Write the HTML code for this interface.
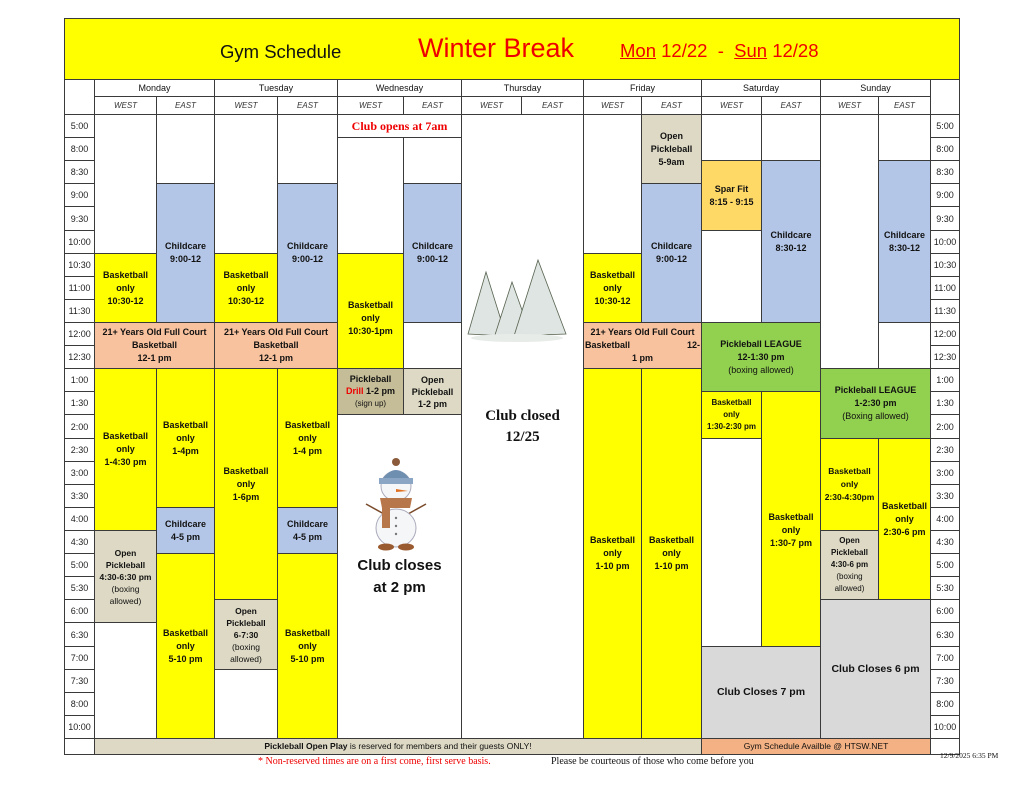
<!DOCTYPE html>
<html><head><meta charset="utf-8"><style>
body{margin:0;width:1024px;height:791px;background:#fff;position:relative;overflow:hidden;font-family:"Liberation Sans",sans-serif;}
.c{position:absolute;box-sizing:border-box;border:1px solid #3a3a3a;display:flex;flex-direction:column;align-items:center;justify-content:center;text-align:center;font-weight:bold;font-size:9px;line-height:13px;color:#111;}
.t{position:absolute;box-sizing:border-box;border:1px solid #3a3a3a;font-size:9px;display:flex;align-items:center;justify-content:center;background:#fff;color:#222;}
.y{background:#ffff00}.b{background:#b4c6e7}.o{background:#f8c29e}.p{background:#ddd9c4}.pd{background:#c4bd97}.g{background:#92d050}.s{background:#ffd966}.gr{background:#d9d9d9}.w{background:#fff}
.h{position:absolute;box-sizing:border-box;border:1px solid #3a3a3a;font-size:9px;display:flex;align-items:center;justify-content:center;background:#fff;color:#111}
.i{font-style:italic;font-size:8px;color:#333}
.n{font-weight:normal}
</style></head><body>
<!-- title -->
<div class="c y" style="left:64px;top:18px;width:896px;height:62px;"></div>
<div style="position:absolute;left:220px;top:41px;font-size:18.5px;color:#111;">Gym Schedule</div>
<div style="position:absolute;left:418px;top:33px;font-size:27px;color:#e00;">Winter Break</div>
<div style="position:absolute;left:620px;top:40px;font-size:18.5px;color:#e00;"><u>Mon</u> 12/22&nbsp; - &nbsp;<u>Sun</u> 12/28</div>
<!-- header -->
<div class="h" style="left:64px;top:79px;width:31px;height:36px"></div>
<div class="h" style="left:930px;top:79px;width:30px;height:36px"></div>
<div class="h" style="left:94px;top:79px;width:121px;height:18px">Monday</div>
<div class="h" style="left:214px;top:79px;width:124px;height:18px">Tuesday</div>
<div class="h" style="left:337px;top:79px;width:125px;height:18px">Wednesday</div>
<div class="h" style="left:461px;top:79px;width:123px;height:18px">Thursday</div>
<div class="h" style="left:583px;top:79px;width:119px;height:18px">Friday</div>
<div class="h" style="left:701px;top:79px;width:120px;height:18px">Saturday</div>
<div class="h" style="left:820px;top:79px;width:111px;height:18px">Sunday</div>
<div class="h i" style="left:94px;top:96px;width:63px;height:19px">WEST</div>
<div class="h i" style="left:156px;top:96px;width:59px;height:19px">EAST</div>
<div class="h i" style="left:214px;top:96px;width:64px;height:19px">WEST</div>
<div class="h i" style="left:277px;top:96px;width:61px;height:19px">EAST</div>
<div class="h i" style="left:337px;top:96px;width:67px;height:19px">WEST</div>
<div class="h i" style="left:403px;top:96px;width:59px;height:19px">EAST</div>
<div class="h i" style="left:461px;top:96px;width:61px;height:19px">WEST</div>
<div class="h i" style="left:521px;top:96px;width:63px;height:19px">EAST</div>
<div class="h i" style="left:583px;top:96px;width:59px;height:19px">WEST</div>
<div class="h i" style="left:641px;top:96px;width:61px;height:19px">EAST</div>
<div class="h i" style="left:701px;top:96px;width:61px;height:19px">WEST</div>
<div class="h i" style="left:761px;top:96px;width:60px;height:19px">EAST</div>
<div class="h i" style="left:820px;top:96px;width:59px;height:19px">WEST</div>
<div class="h i" style="left:878px;top:96px;width:53px;height:19px">EAST</div>
<!-- time labels -->
<div class="t" style="left:64px;top:114px;width:31px;height:24px">5:00</div><div class="t" style="left:930px;top:114px;width:30px;height:24px">5:00</div>
<div class="t" style="left:64px;top:137px;width:31px;height:24px">8:00</div><div class="t" style="left:930px;top:137px;width:30px;height:24px">8:00</div>
<div class="t" style="left:64px;top:160px;width:31px;height:24px">8:30</div><div class="t" style="left:930px;top:160px;width:30px;height:24px">8:30</div>
<div class="t" style="left:64px;top:183px;width:31px;height:24px">9:00</div><div class="t" style="left:930px;top:183px;width:30px;height:24px">9:00</div>
<div class="t" style="left:64px;top:206px;width:31px;height:25px">9:30</div><div class="t" style="left:930px;top:206px;width:30px;height:25px">9:30</div>
<div class="t" style="left:64px;top:230px;width:31px;height:24px">10:00</div><div class="t" style="left:930px;top:230px;width:30px;height:24px">10:00</div>
<div class="t" style="left:64px;top:253px;width:31px;height:24px">10:30</div><div class="t" style="left:930px;top:253px;width:30px;height:24px">10:30</div>
<div class="t" style="left:64px;top:276px;width:31px;height:24px">11:00</div><div class="t" style="left:930px;top:276px;width:30px;height:24px">11:00</div>
<div class="t" style="left:64px;top:299px;width:31px;height:24px">11:30</div><div class="t" style="left:930px;top:299px;width:30px;height:24px">11:30</div>
<div class="t" style="left:64px;top:322px;width:31px;height:24px">12:00</div><div class="t" style="left:930px;top:322px;width:30px;height:24px">12:00</div>
<div class="t" style="left:64px;top:345px;width:31px;height:24px">12:30</div><div class="t" style="left:930px;top:345px;width:30px;height:24px">12:30</div>
<div class="t" style="left:64px;top:368px;width:31px;height:24px">1:00</div><div class="t" style="left:930px;top:368px;width:30px;height:24px">1:00</div>
<div class="t" style="left:64px;top:391px;width:31px;height:24px">1:30</div><div class="t" style="left:930px;top:391px;width:30px;height:24px">1:30</div>
<div class="t" style="left:64px;top:414px;width:31px;height:25px">2:00</div><div class="t" style="left:930px;top:414px;width:30px;height:25px">2:00</div>
<div class="t" style="left:64px;top:438px;width:31px;height:24px">2:30</div><div class="t" style="left:930px;top:438px;width:30px;height:24px">2:30</div>
<div class="t" style="left:64px;top:461px;width:31px;height:24px">3:00</div><div class="t" style="left:930px;top:461px;width:30px;height:24px">3:00</div>
<div class="t" style="left:64px;top:484px;width:31px;height:24px">3:30</div><div class="t" style="left:930px;top:484px;width:30px;height:24px">3:30</div>
<div class="t" style="left:64px;top:507px;width:31px;height:24px">4:00</div><div class="t" style="left:930px;top:507px;width:30px;height:24px">4:00</div>
<div class="t" style="left:64px;top:530px;width:31px;height:24px">4:30</div><div class="t" style="left:930px;top:530px;width:30px;height:24px">4:30</div>
<div class="t" style="left:64px;top:553px;width:31px;height:24px">5:00</div><div class="t" style="left:930px;top:553px;width:30px;height:24px">5:00</div>
<div class="t" style="left:64px;top:576px;width:31px;height:24px">5:30</div><div class="t" style="left:930px;top:576px;width:30px;height:24px">5:30</div>
<div class="t" style="left:64px;top:599px;width:31px;height:24px">6:00</div><div class="t" style="left:930px;top:599px;width:30px;height:24px">6:00</div>
<div class="t" style="left:64px;top:622px;width:31px;height:25px">6:30</div><div class="t" style="left:930px;top:622px;width:30px;height:25px">6:30</div>
<div class="t" style="left:64px;top:646px;width:31px;height:24px">7:00</div><div class="t" style="left:930px;top:646px;width:30px;height:24px">7:00</div>
<div class="t" style="left:64px;top:669px;width:31px;height:24px">7:30</div><div class="t" style="left:930px;top:669px;width:30px;height:24px">7:30</div>
<div class="t" style="left:64px;top:692px;width:31px;height:24px">8:00</div><div class="t" style="left:930px;top:692px;width:30px;height:24px">8:00</div>
<div class="t" style="left:64px;top:715px;width:31px;height:24px">10:00</div><div class="t" style="left:930px;top:715px;width:30px;height:24px">10:00</div>
<div class="t" style="left:64px;top:738px;width:31px;height:17px"></div><div class="t" style="left:930px;top:738px;width:30px;height:17px"></div>

<!-- Monday -->
<div class="c w" style="left:94px;top:114px;width:63px;height:140px"></div>
<div class="c y" style="left:94px;top:253px;width:63px;height:70px"><div>Basketball<br>only<br>10:30-12</div></div>
<div class="c w" style="left:156px;top:114px;width:59px;height:70px"></div>
<div class="c b" style="left:156px;top:183px;width:59px;height:140px"><div>Childcare<br>9:00-12</div></div>
<div class="c o" style="left:94px;top:322px;width:121px;height:47px"><div>21+ Years Old Full Court<br>Basketball<br>12-1 pm</div></div>
<div class="c y" style="left:94px;top:368px;width:63px;height:163px"><div>Basketball<br>only<br>1-4:30 pm</div></div>
<div class="c p" style="left:94px;top:530px;width:63px;height:93px;font-size:8.5px;line-height:12px"><div>Open<br>Pickleball<br>4:30-6:30 pm<br><span class="n">(boxing<br>allowed)</span></div></div>
<div class="c w" style="left:94px;top:622px;width:63px;height:117px"></div>
<div class="c y" style="left:156px;top:368px;width:59px;height:140px"><div>Basketball<br>only<br>1-4pm</div></div>
<div class="c b" style="left:156px;top:507px;width:59px;height:47px"><div>Childcare<br>4-5 pm</div></div>
<div class="c y" style="left:156px;top:553px;width:59px;height:186px"><div>Basketball<br>only<br>5-10 pm</div></div>
<!-- Tuesday -->
<div class="c w" style="left:214px;top:114px;width:64px;height:140px"></div>
<div class="c y" style="left:214px;top:253px;width:64px;height:70px"><div>Basketball<br>only<br>10:30-12</div></div>
<div class="c w" style="left:277px;top:114px;width:61px;height:70px"></div>
<div class="c b" style="left:277px;top:183px;width:61px;height:140px"><div>Childcare<br>9:00-12</div></div>
<div class="c o" style="left:214px;top:322px;width:124px;height:47px"><div>21+ Years Old Full Court<br>Basketball<br>12-1 pm</div></div>
<div class="c y" style="left:214px;top:368px;width:64px;height:232px"><div>Basketball<br>only<br>1-6pm</div></div>
<div class="c p" style="left:214px;top:599px;width:64px;height:71px;font-size:8.5px;line-height:12px"><div>Open<br>Pickleball<br>6-7:30<br><span class="n">(boxing<br>allowed)</span></div></div>
<div class="c w" style="left:214px;top:669px;width:64px;height:70px"></div>
<div class="c y" style="left:277px;top:368px;width:61px;height:140px"><div>Basketball<br>only<br>1-4 pm</div></div>
<div class="c b" style="left:277px;top:507px;width:61px;height:47px"><div>Childcare<br>4-5 pm</div></div>
<div class="c y" style="left:277px;top:553px;width:61px;height:186px"><div>Basketball<br>only<br>5-10 pm</div></div>
<!-- Wednesday -->
<div class="c w" style="left:337px;top:114px;width:125px;height:24px;color:#e00;font-family:'Liberation Serif',serif;font-size:12px"><div>Club opens at 7am</div></div>
<div class="c w" style="left:337px;top:137px;width:67px;height:117px"></div>
<div class="c y" style="left:337px;top:253px;width:67px;height:116px;padding-top:14px"><div>Basketball only<br>10:30-1pm</div></div>
<div class="c w" style="left:403px;top:137px;width:59px;height:47px"></div>
<div class="c b" style="left:403px;top:183px;width:59px;height:140px"><div>Childcare<br>9:00-12</div></div>
<div class="c w" style="left:403px;top:322px;width:59px;height:47px"></div>
<div class="c pd" style="left:337px;top:368px;width:67px;height:47px;line-height:12px"><div>Pickleball<br><span style="color:#e00">Drill</span> 1-2 pm<br><span class="n" style="font-size:8px">(sign up)</span></div></div>
<div class="c p" style="left:403px;top:368px;width:59px;height:47px;line-height:12px"><div>Open<br>Pickleball<br>1-2 pm</div></div>
<div class="c w" style="left:337px;top:414px;width:125px;height:325px"></div>
<svg style="position:absolute;left:358px;top:456px" width="76" height="96" viewBox="0 0 76 96">
<line x1="8" y1="48" x2="26" y2="58" stroke="#7a4a2a" stroke-width="1.5"/><line x1="68" y1="48" x2="50" y2="58" stroke="#7a4a2a" stroke-width="1.5"/>
<ellipse cx="38" cy="72" rx="20" ry="19" fill="#f4f6f8" stroke="#aab" />
<ellipse cx="38" cy="30" rx="15" ry="15" fill="#f4f6f8" stroke="#aab"/>
<path d="M22 26 Q38 2 54 26 Z" fill="#6f8fb0"/><rect x="21" y="22" width="34" height="6" fill="#8aa6c4"/><circle cx="38" cy="6" r="4" fill="#8a5a3a"/>
<path d="M22 42 L54 42 L52 52 L24 52Z" fill="#b8774a"/><rect x="24" y="50" width="8" height="22" fill="#b8774a"/>
<path d="M38 33 L50 35 L38 36Z" fill="#e07020"/>
<circle cx="38" cy="62" r="1.2" fill="#777"/><circle cx="38" cy="70" r="1.2" fill="#777"/><circle cx="38" cy="78" r="1.2" fill="#777"/>
<ellipse cx="28" cy="91" rx="8" ry="3.5" fill="#9a5a30"/><ellipse cx="48" cy="91" rx="8" ry="3.5" fill="#9a5a30"/>
</svg>
<div style="position:absolute;left:337px;top:555px;width:125px;text-align:center;font-weight:bold;font-size:15px;line-height:22px;color:#111">Club closes<br>at 2 pm</div>
<!-- Thursday -->
<div class="c w" style="left:461px;top:114px;width:123px;height:625px"></div>
<svg style="position:absolute;left:464px;top:252px" width="106" height="92" viewBox="0 0 106 92">
<g fill="#dfe5e2" stroke="#56624f" stroke-width="0.8">
<path d="M22 20 L4 82 L42 84 Z"/><path d="M48 30 L30 86 L68 86 Z"/><path d="M74 8 L50 84 L102 82 Z"/></g>
<ellipse cx="53" cy="86" rx="46" ry="4" fill="#e8ece9"/>
</svg>
<div style="position:absolute;left:461px;top:406px;width:123px;text-align:center;font-weight:bold;font-size:15px;line-height:21px;font-family:'Liberation Serif',serif;color:#111">Club closed<br>12/25</div>
<!-- Friday -->
<div class="c w" style="left:583px;top:114px;width:59px;height:140px"></div>
<div class="c y" style="left:583px;top:253px;width:59px;height:70px"><div>Basketball<br>only<br>10:30-12</div></div>
<div class="c p" style="left:641px;top:114px;width:61px;height:70px"><div>Open<br>Pickleball<br>5-9am</div></div>
<div class="c b" style="left:641px;top:183px;width:61px;height:140px"><div>Childcare<br>9:00-12</div></div>
<div class="c o" style="left:583px;top:322px;width:119px;height:47px;display:block;padding-top:3px">21+ Years Old Full Court<br><span style="display:flex;justify-content:space-between;padding:0 1px"><span>Basketball</span><span>12-</span></span>1 pm</div>
<div class="c y" style="left:583px;top:368px;width:59px;height:371px"><div>Basketball<br>only<br>1-10 pm</div></div>
<div class="c y" style="left:641px;top:368px;width:61px;height:371px"><div>Basketball<br>only<br>1-10 pm</div></div>
<!-- Saturday -->
<div class="c w" style="left:701px;top:114px;width:61px;height:47px"></div>
<div class="c s" style="left:701px;top:160px;width:61px;height:71px"><div>Spar Fit<br>8:15 - 9:15</div></div>
<div class="c w" style="left:701px;top:230px;width:61px;height:93px"></div>
<div class="c w" style="left:761px;top:114px;width:60px;height:47px"></div>
<div class="c b" style="left:761px;top:160px;width:60px;height:163px"><div>Childcare<br>8:30-12</div></div>
<div class="c g" style="left:701px;top:322px;width:120px;height:70px"><div>Pickleball LEAGUE<br>12-1:30 pm<br><span class="n">(boxing allowed)</span></div></div>
<div class="c y" style="left:701px;top:391px;width:61px;height:48px;font-size:8px;line-height:12px"><div>Basketball<br>only<br>1:30-2:30 pm</div></div>
<div class="c w" style="left:701px;top:438px;width:61px;height:232px"></div>
<div class="c y" style="left:761px;top:391px;width:60px;height:279px"><div>Basketball<br>only<br>1:30-7 pm</div></div>
<div class="c gr" style="left:701px;top:646px;width:120px;height:93px;font-size:10.5px"><div>Club Closes 7 pm</div></div>
<!-- Sunday -->
<div class="c w" style="left:820px;top:114px;width:59px;height:255px"></div>
<div class="c w" style="left:878px;top:114px;width:53px;height:47px"></div>
<div class="c b" style="left:878px;top:160px;width:53px;height:163px"><div>Childcare<br>8:30-12</div></div>
<div class="c w" style="left:878px;top:322px;width:53px;height:47px"></div>
<div class="c g" style="left:820px;top:368px;width:111px;height:71px"><div>Pickleball LEAGUE<br>1-2:30 pm<br><span class="n">(Boxing allowed)</span></div></div>
<div class="c y" style="left:820px;top:438px;width:59px;height:93px;font-size:8.5px"><div>Basketball<br>only<br>2:30-4:30pm</div></div>
<div class="c p" style="left:820px;top:530px;width:59px;height:70px;font-size:8px;line-height:12px"><div>Open<br>Pickleball<br>4:30-6 pm<br><span class="n">(boxing<br>allowed)</span></div></div>
<div class="c y" style="left:878px;top:438px;width:53px;height:162px"><div>Basketball<br>only<br>2:30-6 pm</div></div>
<div class="c gr" style="left:820px;top:599px;width:111px;height:140px;font-size:10.5px"><div>Club Closes 6 pm</div></div>
<!-- footer -->
<div class="c p" style="left:94px;top:738px;width:608px;height:17px;font-size:8.5px"><div>Pickleball Open Play <span class="n">is reserved for members and their guests ONLY!</span></div></div>
<div class="c" style="left:701px;top:738px;width:230px;height:17px;background:#f4b183;font-weight:normal;font-size:8.5px"><div>Gym Schedule Availble @ HTSW.NET</div></div>
<div style="position:absolute;left:258px;top:756px;font-family:'Liberation Serif',serif;font-size:10px;color:#e00">* Non-reserved times are on a first come, first serve basis.</div>
<div style="position:absolute;left:551px;top:756px;font-family:'Liberation Serif',serif;font-size:10px;color:#111">Please be courteous of those who come before you</div>
<div style="position:absolute;left:940px;top:751px;font-family:'Liberation Serif',serif;font-size:7.5px;color:#111">12/9/2025 6:35 PM</div>
</body></html>
